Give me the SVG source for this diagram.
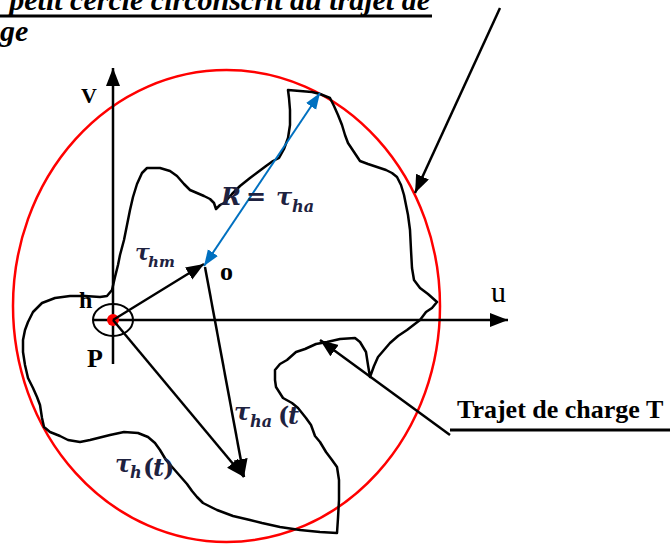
<svg xmlns="http://www.w3.org/2000/svg" width="671" height="545" viewBox="0 0 671 545">
<defs>
<marker id="ah" markerUnits="userSpaceOnUse" markerWidth="20" markerHeight="16" refX="18" refY="7" orient="auto">
<path d="M0,0 L18,7 L0,14 Z" fill="#000"/>
</marker>
<marker id="bh" markerUnits="userSpaceOnUse" markerWidth="18" markerHeight="14" refX="16" refY="6" orient="auto-start-reverse">
<path d="M0,0 L16,6 L0,12 Z" fill="#0070C0"/>
</marker>
</defs>
<style>
.lbl{font-family:"Liberation Serif","Times New Roman",serif;font-weight:bold;fill:#000}
.math{font-family:"DejaVu Serif",serif;font-style:italic;font-weight:bold;fill:#1e2240}
.ax{stroke:#000;stroke-width:2.5;fill:none}
.ln{stroke:#000;stroke-width:2.5;fill:none}
</style>
<g id="title">
<text class="lbl" x="430" y="10" font-size="30" font-style="italic" text-anchor="end">petit cercle circonscrit au trajet de</text>
<line x1="0" y1="16" x2="432" y2="16" stroke="#000" stroke-width="3"/>
<text class="lbl" x="0" y="41" font-size="30" font-style="italic">ge</text>
</g>
<g id="circle">
<ellipse cx="226.5" cy="306" rx="213.5" ry="236" fill="none" stroke="#ff0000" stroke-width="2.5"/>
</g>
<g id="trajet">
<path fill="none" stroke="#000" stroke-width="2.5" stroke-linejoin="round" d="M112,290 L115,277 L118,265 L120,255 L124,240 L127,225 L130,210 L133,197 L137,184 L142,173 L147,168 L160,168 L170,171 L177,176 L184,184 L190,190 L197,193 L204,196 L210,199 L214,203 L216,209 L220,205 L224,203 L232,194 L240,186 L250,178 L258,172 L266,166 L273,161 L279,158 L284,149 L288,138 L290,125 L290,110 L289,98 L288,90 L300,91 L312,92 L320,94 L330,98 L334,106 L338,115 L342,125 L345,135 L348,143 L354,152 L360,161 L368,164 L377,167 L386,170 L392,173 L397,177 L401,185 L404,195 L406,205 L408,215 L410,230 L411,250 L412,268 L414,280 L420,288 L428,294 L437,302 L432,308 L426,312 L420,320 L407,330 L398,336 L390,343 L384,350 L378,357 L374,366 L370,377 L368,365 L366,352 L360,342 L355,338 L340,339 L327,342 L316,344 L305,349 L296,352 L287,360 L280,364 L275,370 L275,380 L276,387 L283,398 L292,403 L298,408 L306,418 L311,425 L315,436 L320,442 L326,452 L332,460 L337,467 L339,480 L339,500 L338,518 L337,533 L320,532 L300,530 L280,527 L262,523 L250,520 L233,516 L217,510 L203,503 L197,497 L192,491 L187,484 L180,476 L173,468 L166,460 L160,450 L155,443 L148,437 L138,433 L124,432 L110,435 L98,438 L90,440 L80,442 L68,440 L60,436 L50,432 L44,427 L42,418 L40,405 L37,397 L33,388 L28,378 L25,365 L23,352 L23,340 L25,330 L28,322 L33,312 L42,303 L55,298 L70,296 L85,296 L100,297 L107,296 Z"/>
</g>
<g id="axes">
<line class="ax" x1="113" y1="364" x2="113" y2="68" marker-end="url(#ah)"/>
<line class="ax" x1="94" y1="320" x2="508" y2="320" marker-end="url(#ah)"/>
<text class="lbl" x="81" y="103" font-size="22">V</text>
<text x="491" y="302" font-size="30" font-family="Liberation Serif, serif" fill="#000">u</text>
</g>
<g id="P">
<ellipse cx="113" cy="320" rx="20" ry="16" fill="none" stroke="#000" stroke-width="2"/>
<circle cx="113" cy="320" r="6" fill="#ff0000"/>
<text class="lbl" x="79" y="308" font-size="24">h</text>
<text class="lbl" x="87" y="367" font-size="26">P</text>
</g>
<g id="o">
<text class="lbl" x="220" y="280" font-size="26">o</text>
</g>
<g id="connectors">
<line class="ln" x1="113" y1="320" x2="204" y2="264" marker-end="url(#ah)"/>
<line class="ln" x1="113" y1="320" x2="244" y2="477" marker-end="url(#ah)"/>
<line class="ln" x1="205" y1="267" x2="244" y2="477" marker-end="url(#ah)"/>
<line x1="204" y1="266" x2="320" y2="93" stroke="#0070C0" stroke-width="2" marker-start="url(#bh)" marker-end="url(#bh)"/>
<line class="ln" x1="500" y1="8" x2="415" y2="193" marker-end="url(#ah)"/>
<line class="ln" x1="450" y1="435" x2="320" y2="340" marker-end="url(#ah)"/>
<line x1="450" y1="430" x2="670" y2="430" stroke="#000" stroke-width="3"/>
</g>
<g id="labels">
<text class="lbl" x="457" y="418" font-size="26">Trajet de charge T</text>
<text class="math" font-size="24"><tspan x="221" y="205">R</tspan><tspan x="246" y="205" font-style="normal">=</tspan><tspan x="276" y="205">τ</tspan><tspan x="292" y="212" font-size="16">ha</tspan></text>
<text class="math" font-size="22"><tspan x="135" y="260">τ</tspan><tspan x="148" y="267" font-size="15">hm</tspan></text>
<text class="math" font-size="24"><tspan x="234" y="420">τ</tspan><tspan x="250" y="427" font-size="16">ha</tspan><tspan x="278" y="424" font-style="normal">(</tspan><tspan x="288" y="424">t</tspan></text>
<text class="math" font-size="24"><tspan x="115" y="472">τ</tspan><tspan x="130" y="478" font-size="16">h</tspan><tspan x="143" y="476" font-style="normal">(</tspan><tspan x="153" y="476">t</tspan><tspan x="163" y="476" font-style="normal">)</tspan></text>
</g>
</svg>
